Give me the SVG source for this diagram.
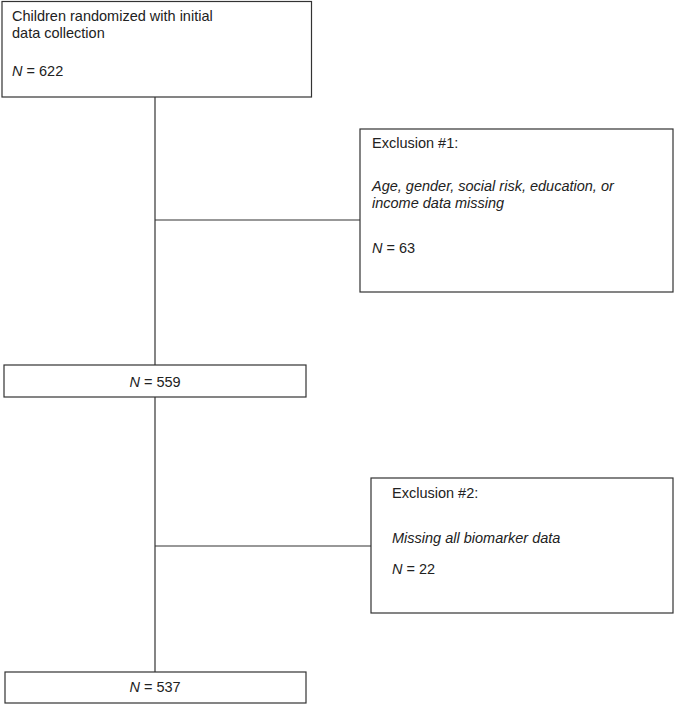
<svg xmlns="http://www.w3.org/2000/svg" width="674" height="704" viewBox="0 0 674 704">
<style>
.box{fill:#fff;stroke:#333;stroke-width:1.2}
.ln{stroke:#333;stroke-width:1.2;fill:none}
text{font-family:"Liberation Sans",Arial,sans-serif;font-size:14.5px;fill:#222}
.it{font-style:italic}
</style>
<rect width="674" height="704" fill="#fff"/>
<g id="connectors">
<line class="ln" x1="155" y1="97" x2="155" y2="365"/>
<line class="ln" x1="155" y1="220" x2="360" y2="220"/>
<line class="ln" x1="155" y1="397" x2="155" y2="672"/>
<line class="ln" x1="155" y1="546" x2="371" y2="546"/>
</g>
<g id="n1">
<rect class="box" x="2" y="1.5" width="309.5" height="95.5"/>
<text x="12" y="21">Children randomized with initial</text>
<text x="12" y="38">data collection</text>
<text x="12" y="76"><tspan class="it">N</tspan> = 622</text>
</g>
<g id="n2">
<rect class="box" x="360" y="129" width="313" height="163"/>
<text x="372" y="148">Exclusion #1:</text>
<text x="372" y="191" class="it">Age, gender, social risk, education, or</text>
<text x="372" y="208" class="it">income data missing</text>
<text x="372" y="253"><tspan class="it">N</tspan> = 63</text>
</g>
<g id="n3">
<rect class="box" x="4" y="365" width="302" height="32"/>
<text x="155" y="387" text-anchor="middle"><tspan class="it">N</tspan> = 559</text>
</g>
<g id="n4">
<rect class="box" x="371" y="478" width="302" height="135"/>
<text x="392" y="498">Exclusion #2:</text>
<text x="392" y="543" class="it">Missing all biomarker data</text>
<text x="392" y="574"><tspan class="it">N</tspan> = 22</text>
</g>
<g id="n5">
<rect class="box" x="5" y="672" width="301" height="31"/>
<text x="155" y="692" text-anchor="middle"><tspan class="it">N</tspan> = 537</text>
</g>
</svg>
